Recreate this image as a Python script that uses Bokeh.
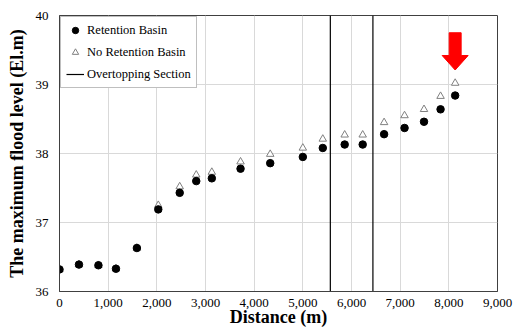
from bokeh.plotting import figure
from bokeh.models import (Range1d, NumeralTickFormatter, Legend, LegendItem,
                          FixedTicker)
from bokeh.embed import file_html
from bokeh.resources import INLINE

distance = [0, 400, 800, 1160, 1590, 2030, 2470, 2810, 3130, 3720, 4330,
            5000, 5410, 5860, 6230, 6670, 7090, 7490, 7830, 8130]
retention = [36.32, 36.39, 36.38, 36.33, 36.63, 37.19, 37.43, 37.60, 37.64,
             37.78, 37.86, 37.95, 38.08, 38.13, 38.13, 38.28, 38.37, 38.46,
             38.64, 38.84]
no_retention = [36.32, 36.39, 36.38, 36.33, 36.63, 37.25, 37.52, 37.69, 37.73,
                37.88, 37.99, 38.08, 38.21, 38.27, 38.27, 38.45, 38.55, 38.64,
                38.83, 39.02]
overtopping = [5565, 6440]
x_ticks = [0, 1000, 2000, 3000, 4000, 5000, 6000, 7000, 8000, 9000]
y_ticks = [36, 37, 38, 39, 40]

FONT = "'Liberation Serif', 'Times New Roman', serif"

p = figure(width=517, height=330, output_backend="svg", toolbar_location=None,
           x_range=Range1d(0, 9000), y_range=Range1d(36, 40),
           min_border_left=59, min_border_top=15, min_border_right=20,
           min_border_bottom=39)
p.outline_line_color = "#404040"
p.outline_line_width = 1

for ax in (p.xaxis, p.yaxis):
    ax.axis_line_color = "#404040"
    ax.major_tick_line_color = None
    ax.minor_tick_line_color = None
    ax.major_tick_out = 0
    ax.major_tick_in = 0
    ax.minor_tick_out = 0
    ax.minor_tick_in = 0
    ax.major_label_text_font = FONT
    ax.major_label_text_font_size = "13px"
    ax.major_label_text_color = "#000000"
    ax.axis_label_text_font = FONT
    ax.axis_label_text_font_size = "18px"
    ax.axis_label_text_font_style = "bold"
    ax.axis_label_text_color = "#000000"

p.xaxis.ticker = FixedTicker(ticks=x_ticks)
p.yaxis.ticker = FixedTicker(ticks=y_ticks)
p.xaxis.formatter = NumeralTickFormatter(format="0,0")
p.xaxis.major_label_standoff = 7
p.yaxis.major_label_standoff = 11
p.xaxis.axis_label = "Distance (m)"
p.yaxis.axis_label = "The maximum flood level (El.m)"
p.xaxis.axis_label_standoff = -3
p.yaxis.axis_label_standoff = 6

p.xgrid.ticker = FixedTicker(ticks=x_ticks)
p.ygrid.ticker = FixedTicker(ticks=y_ticks)
p.grid.grid_line_color = "#d9d9d9"
p.grid.grid_line_width = 1

seg = p.segment(x0=overtopping, y0=[36] * len(overtopping),
                x1=overtopping, y1=[40] * len(overtopping),
                line_color="#000000", line_width=1.2)
tri = p.scatter(distance, no_retention, marker="triangle", size=7.5,
                fill_color="white", line_color="#808080", line_width=1)
dot = p.scatter(distance, retention, marker="circle", size=7.5,
                fill_color="black", line_color="black")

# red arrow pointing at the most downstream point
xc = distance[-1]
tip = no_retention[-1] + 0.19
head = tip + 0.21
top = tip + 0.54
hw_head = 267
hw_shaft = 123
p.patch([xc, xc - hw_head, xc - hw_shaft, xc - hw_shaft, xc + hw_shaft, xc + hw_shaft, xc + hw_head],
        [tip, head, head, top, top, head, head],
        fill_color="#ff0000", line_color="#ff0000")

legend = Legend(items=[
    LegendItem(label="Retention Basin", renderers=[dot]),
    LegendItem(label="No Retention Basin", renderers=[tri]),
    LegendItem(label="Overtopping Section", renderers=[seg]),
], location="top_left")
legend.label_text_font = FONT
legend.label_text_font_size = "12.5px"
legend.label_text_color = "#000000"
legend.border_line_color = "#808080"
legend.border_line_width = 1
legend.background_fill_alpha = 1
legend.margin = 1
legend.padding = 5
legend.spacing = 6
legend.glyph_width = 18
legend.glyph_height = 16
legend.label_height = 16
legend.label_standoff = 3
p.add_layout(legend)

open("out.html", "w").write(file_html(p, INLINE))
